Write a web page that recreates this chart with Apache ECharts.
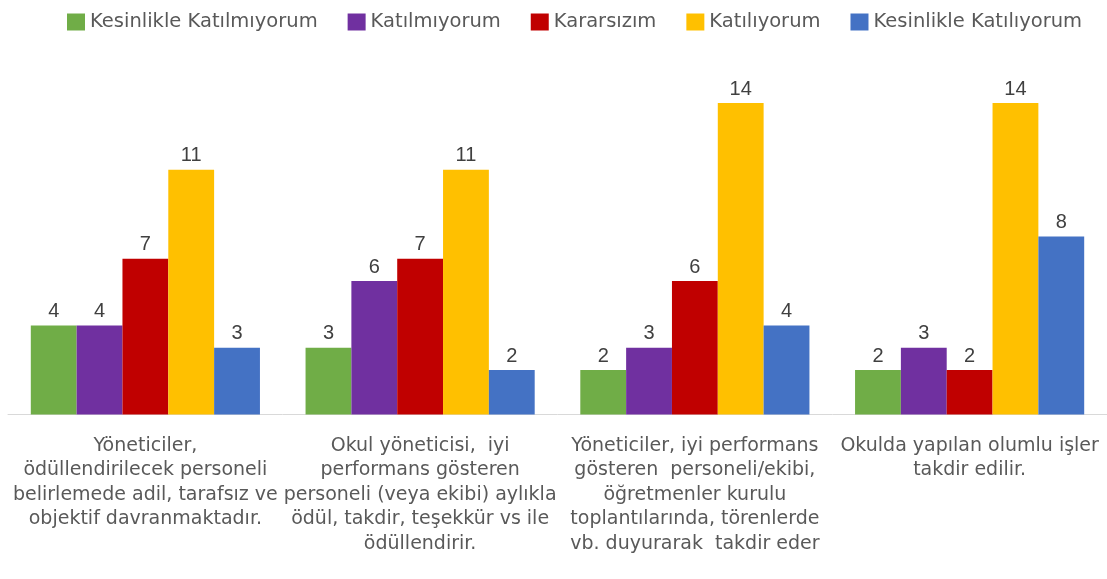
<!DOCTYPE html>
<html><head><meta charset="utf-8">
<script src="https://cdn.jsdelivr.net/npm/echarts@6/dist/echarts.min.js"></script>
<style>html,body{margin:0;padding:0;background:#fff}#c{width:1107px;height:579px}</style>
</head><body><div id="c"></div>
<script>
const categories = [
  "Yöneticiler,\nödüllendirilecek personeli\nbelirlemede adil, tarafsız ve\nobjektif davranmaktadır.",
  "Okul yöneticisi,  iyi\nperformans gösteren\npersoneli (veya ekibi) aylıkla\nödül, takdir, teşekkür vs ile\nödüllendirir.",
  "Yöneticiler, iyi performans\ngösteren  personeli/ekibi,\nöğretmenler kurulu\ntoplantılarında, törenlerde\nvb. duyurarak  takdir eder",
  "Okulda yapılan olumlu işler\ntakdir edilir."
];
const seriesNames = ["Kesinlikle Katılmıyorum","Katılmıyorum","Kararsızım","Katılıyorum","Kesinlikle Katılıyorum"];
const kesinlikleKatilmiyorum = [4,3,2,2];
const katilmiyorum = [4,6,3,3];
const kararsizim = [7,7,6,2];
const katiliyorum = [11,11,14,14];
const kesinlikleKatiliyorum = [3,2,4,8];
const colors = ["#70AD47","#7030A0","#C00000","#FFC000","#4472C4"];
const values = [kesinlikleKatilmiyorum,katilmiyorum,kararsizim,katiliyorum,kesinlikleKatiliyorum];
const font = "'DejaVu Sans', sans-serif";
const chart = echarts.init(document.getElementById('c'));
chart.setOption({
  animation:false,
  color:colors,
  legend:{top:7,left:62,itemWidth:18,itemHeight:17,itemGap:30,icon:'rect',
    textStyle:{fontFamily:font,fontSize:19.5,color:'#595959'},data:seriesNames},
  grid:{left:8,right:0,top:58.5,bottom:164.5,containLabel:false},
  xAxis:{type:'category',data:categories,
    axisLine:{lineStyle:{color:'#D9D9D9',width:1}},axisTick:{show:false},
    axisLabel:{interval:0,fontFamily:font,fontSize:19,color:'#595959',lineHeight:24.5,margin:19,align:'center'}},
  yAxis:{type:'value',min:0,max:16,show:false,splitLine:{show:false}},
  series:values.map((v,i)=>({name:seriesNames[i],type:'bar',data:v,barGap:'0%',barCategoryGap:'16.6%',
    label:{show:true,position:'top',fontFamily:"'Liberation Sans', sans-serif",fontSize:20,color:'#404040',distance:4}}))
});
</script></body></html>
